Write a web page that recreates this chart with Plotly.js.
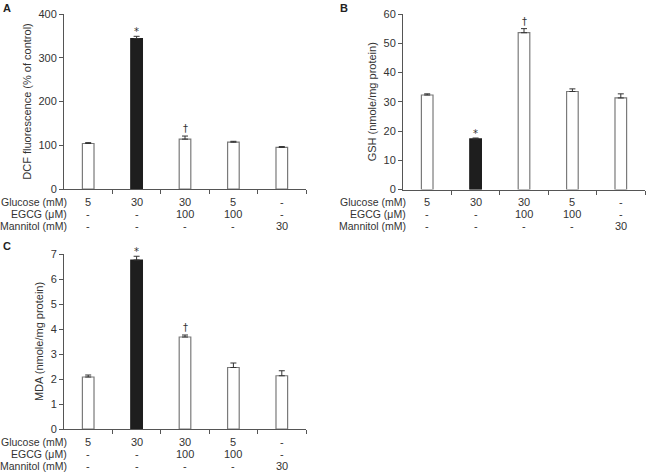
<!DOCTYPE html>
<html><head><meta charset="utf-8">
<script src="https://cdn.plot.ly/plotly-3.0.1.min.js"></script>
<style>html,body{margin:0;padding:0;background:#fff}#chart{width:646px;height:472px}</style>
</head><body><div id="chart"></div>
<script>
// ---- data ----
const groups = [0, 1, 2, 3, 4];
const glucoseRow = ['5', '30', '30', '5', '-'];
const egcgRow = ['-', '-', '100', '100', '-'];
const mannitolRow = ['-', '-', '-', '-', '30'];
const rowLabels = ['Glucose (mM)', 'EGCG (\u03BCM)', 'Mannitol (mM)'];
const dcfValues = [104, 344, 114, 107, 95];
const dcfErrors = [2, 5, 7, 2, 2];
const dcfMarks = ['', '*', '\u2020', '', ''];
const gshValues = [32.3, 17.3, 53.6, 33.5, 31.3];
const gshErrors = [0.4, 0.3, 1.4, 0.9, 1.4];
const gshMarks = ['', '*', '\u2020', '', ''];
const mdaValues = [2.08, 6.76, 3.68, 2.46, 2.13];
const mdaErrors = [0.08, 0.15, 0.08, 0.18, 0.2];
const mdaMarks = ['', '*', '\u2020', '', ''];
const yTitles = ['DCF fluorescence (% of control)', 'GSH (nmole/mg protein)', 'MDA (nmole/mg protein)'];
const panelLetters = ['A', 'B', 'C'];
const boundaryTicks = [0.5, 1.5, 2.5, 3.5, 4.5];

// ---- layout helpers (pixels -> paper) ----
const W = 646, H = 472;
const px = v => v / W;
const py = v => 1 - v / H;
const font = 'Liberation Sans, Arial, sans-serif';
const txt = '#333333';
const axc = '#555555';

const panels = [
  {vals: dcfValues, errs: dcfErrors, marks: dcfMarks, xa: 'x', ya: 'y', left: 64, right: 306, top: 14, bottom: 189, range: [0, 400], dtick: 100, labelX: 68.5, rows: [202, 214, 226], letter: [1, 8]},
  {vals: gshValues, errs: gshErrors, marks: gshMarks, xa: 'x2', ya: 'y2', left: 403, right: 645, top: 14, bottom: 189.5, range: [0, 60], dtick: 10, labelX: 407.5, rows: [202, 214, 226], letter: [338, 8]},
  {vals: mdaValues, errs: mdaErrors, marks: mdaMarks, xa: 'x3', ya: 'y3', left: 64, right: 306, top: 254, bottom: 429, range: [0, 7], dtick: 1, labelX: 68.5, rows: [442, 454, 465.5], letter: [1, 246]}
];

function barColors() { return groups.map(i => i === 1 ? '#1e1e1e' : '#ffffff'); }

const data = [];
const annotations = [];
const layout = {
  width: W, height: H,
  margin: {l: 0, r: 0, t: 0, b: 0},
  paper_bgcolor: '#ffffff', plot_bgcolor: '#ffffff',
  showlegend: false,
  font: {family: font, size: 11, color: txt},
  annotations: annotations
};

panels.forEach((p, k) => {
  data.push({
    type: 'bar', x: groups, y: p.vals, xaxis: p.xa, yaxis: p.ya,
    width: 0.24,
    marker: {color: barColors(), line: {color: p.vals.map((v, i) => i === 1 ? '#1e1e1e' : '#7a7a7a'), width: 1.2}},
    error_y: {type: 'data', symmetric: false, array: p.errs, arrayminus: p.errs.map(() => 0), color: '#333333', thickness: 1, width: 3},
    hoverinfo: 'skip'
  });
  const xn = p.xa === 'x' ? 'xaxis' : 'xaxis' + p.xa.slice(1);
  const yn = p.ya === 'y' ? 'yaxis' : 'yaxis' + p.ya.slice(1);
  layout[xn] = {
    domain: [px(p.left), px(p.right)], anchor: p.ya, range: [-0.5, 4.5],
    showgrid: false, zeroline: false, showline: true, linecolor: axc, linewidth: 1,
    ticks: 'outside', ticklen: 4, tickcolor: axc, tickvals: boundaryTicks, showticklabels: false, fixedrange: true
  };
  layout[yn] = {
    domain: [py(p.bottom), py(p.top)], anchor: p.xa, range: p.range, dtick: p.dtick, tick0: 0,
    showgrid: false, zeroline: false, showline: true, linecolor: axc, linewidth: 1,
    ticks: 'outside', ticklen: 4, tickcolor: axc, tickfont: {size: 11, color: txt, family: font},
    title: {text: yTitles[k], font: {size: 11, color: txt, family: font}, standoff: 4},
    automargin: false, fixedrange: true
  };
  // significance marks
  groups.forEach(i => {
    if (p.marks[i]) {
      annotations.push({xref: p.xa, yref: p.ya, x: i, y: p.vals[i] + p.errs[i], text: p.marks[i],
        showarrow: false, yanchor: 'bottom', xanchor: 'center', yshift: p.marks[i] === '*' ? -3 : 0,
        font: {size: 10, color: txt, family: 'DejaVu Sans, sans-serif'}});
    }
  });
  // condition table
  const rowsData = [glucoseRow, egcgRow, mannitolRow];
  rowsData.forEach((row, r) => {
    annotations.push({xref: 'paper', yref: 'paper', x: px(p.labelX), y: py(p.rows[r]), text: rowLabels[r],
      showarrow: false, xanchor: 'right', yanchor: 'middle', font: {size: 10.5, color: txt, family: font}});
    row.forEach((t, i) => {
      annotations.push({xref: p.xa, yref: 'paper', x: groups[i], y: py(p.rows[r]), text: t,
        showarrow: false, xanchor: 'center', yanchor: 'middle', font: {size: 11, color: txt, family: font}});
    });
  });
  annotations.push({xref: 'paper', yref: 'paper', x: px(p.letter[0]), y: py(p.letter[1]), text: '<b>' + panelLetters[k] + '</b>',
    showarrow: false, xanchor: 'left', yanchor: 'middle', font: {size: 11, color: '#222', family: font}});
});

Plotly.newPlot('chart', data, layout, {displayModeBar: false, staticPlot: true});
</script>
</body></html>
